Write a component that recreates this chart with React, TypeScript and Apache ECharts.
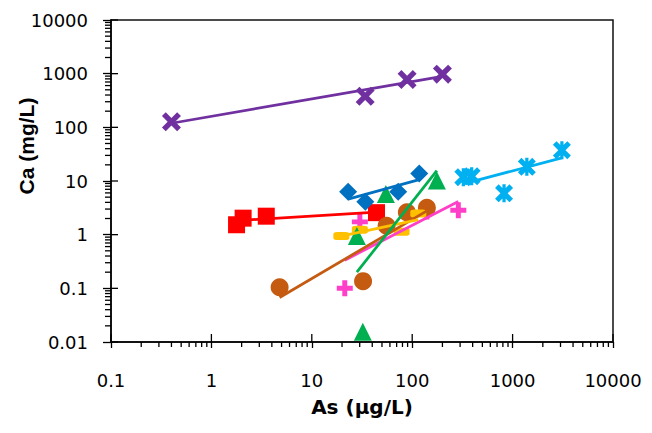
import React, { useEffect, useRef } from "react";
import * as echarts from "echarts";

// As (µg/L) and Ca (mg/L) measurements, one pair of arrays per group
const purpleAs = [0.4, 34, 89, 200];
const purpleCa = [127, 380, 780, 980];

const skyAs = [323, 391, 822, 1386, 3097];
const skyCa = [11.8, 12.3, 5.9, 18.4, 37.6];

const redAs = [1.78, 2.07, 3.52, 44.1];
const redCa = [1.53, 2.03, 2.21, 2.57];

const blueAs = [23, 34.1, 72.5, 117.5];
const blueCa = [6.3, 4.1, 6.3, 13.8];

const pinkAs = [21.3, 30.1, 140, 288];
const pinkCa = [0.1, 1.73, 2.7, 2.86];

const brownAs = [4.78, 32.4, 55.6, 88.5, 140];
const brownCa = [0.105, 0.136, 1.47, 2.62, 3.18];

const goldAs = [19.7, 30.1, 78.4, 115];
const goldCa = [0.94, 1.24, 1.13, 2.48];

const greenAs = [54.7, 176, 28.1, 32.2];
const greenCa = [5.7, 10.2, 0.94, 0.0155];

// Axis decades and the minor multipliers between them
const xDecades = [0.1, 1, 10, 100, 1000, 10000];
const yDecades = [0.01, 0.1, 1, 10, 100, 1000, 10000];
const minorSteps = [2, 3, 4, 5, 6, 7, 8, 9];

const xTitle = "As (µg/L)";
const yTitle = "Ca (mg/L)";

const CROSS = "path://M2,0 L5,3 L8,0 L10,2 L7,5 L10,8 L8,10 L5,7 L2,10 L0,8 L3,5 L0,2 Z";
const STAR =
  "path://M2,0 L5,3 L8,0 L10,2 L7,5 L10,8 L8,10 L5,7 L2,10 L0,8 L3,5 L0,2 Z M4.1,0 L5.9,0 L5.9,10 L4.1,10 Z";
const PLUS =
  "path://M3.45,0 L6.55,0 L6.55,3.45 L10,3.45 L10,6.55 L6.55,6.55 L6.55,10 L3.45,10 L3.45,6.55 L0,6.55 L0,3.45 L3.45,3.45 Z";

type Group = {
  name: string;
  xs: number[];
  ys: number[];
  color: string;
  symbol: string;
  size: number | number[];
};

const groups: Group[] = [
  { name: "G1", xs: purpleAs, ys: purpleCa, color: "#7030A0", symbol: CROSS, size: [19, 19] },
  { name: "G2", xs: skyAs, ys: skyCa, color: "#00B0F0", symbol: STAR, size: [18, 18] },
  { name: "G3", xs: redAs, ys: redCa, color: "#FF0000", symbol: "rect", size: 17 },
  { name: "G4", xs: blueAs, ys: blueCa, color: "#0070C0", symbol: "diamond", size: 18 },
  { name: "G5", xs: pinkAs, ys: pinkCa, color: "#FF3FC8", symbol: PLUS, size: 16 },
  { name: "G6", xs: brownAs, ys: brownCa, color: "#C55A11", symbol: "circle", size: 18 },
  { name: "G7", xs: goldAs, ys: goldCa, color: "#FFC000", symbol: "roundRect", size: [16, 8] },
  { name: "G8", xs: greenAs, ys: greenCa, color: "#00B050", symbol: "triangle", size: 18 },
];

// Power-law trendline (least squares in log-log space), from min to max As
function powerTrend(xs: number[], ys: number[]): number[][] {
  const lx = xs.map((v) => Math.log10(v));
  const ly = ys.map((v) => Math.log10(v));
  const n = lx.length;
  const mx = lx.reduce((a, b) => a + b, 0) / n;
  const my = ly.reduce((a, b) => a + b, 0) / n;
  let sxy = 0;
  let sxx = 0;
  for (let i = 0; i < n; i++) {
    sxy += (lx[i] - mx) * (ly[i] - my);
    sxx += (lx[i] - mx) * (lx[i] - mx);
  }
  const b = sxy / sxx;
  const a = my - b * mx;
  const x0 = Math.min(...xs);
  const x1 = Math.max(...xs);
  return [
    [x0, Math.pow(10, a + b * Math.log10(x0))],
    [x1, Math.pow(10, a + b * Math.log10(x1))],
  ];
}

// Tick marks drawn through the axes' scales: [x, y, kind]
function tickData(): number[][] {
  const out: number[][] = [];
  const yMin = yDecades[0];
  const xMin = xDecades[0];
  for (let i = 0; i < xDecades.length - 1; i++) {
    for (const m of minorSteps) out.push([xDecades[i] * m, yMin, 0]);
  }
  for (const d of xDecades) out.push([d, yMin, 1]);
  for (let i = 0; i < yDecades.length - 1; i++) {
    for (const m of minorSteps) out.push([xMin, yDecades[i] * m, 2]);
  }
  for (const d of yDecades) out.push([xMin, d, 3]);
  return out;
}

const fmt = (v: number) => String(Number(v.toPrecision(6)));

export default function App() {
  const ref = useRef<HTMLDivElement>(null);

  useEffect(() => {
    if (!ref.current) return;
    const chart = echarts.init(ref.current, undefined, { renderer: "svg" });

    const scatterSeries = groups.map((g) => ({
      type: "scatter",
      name: g.name,
      data: g.xs.map((x, j) => [x, g.ys[j]]),
      symbol: g.symbol,
      symbolSize: g.size,
      itemStyle: { color: g.color, opacity: 1 },
      z: 2,
      clip: false,
      emphasis: { disabled: true },
    }));

    const trendSeries = groups.map((g) => ({
      type: "line",
      name: g.name + " trend",
      data: powerTrend(g.xs, g.ys),
      showSymbol: false,
      symbol: "none",
      lineStyle: { color: g.color, width: 2.75 },
      z: 3,
      silent: true,
    }));

    const tickSeries = {
      type: "custom",
      data: tickData(),
      encode: { x: 0, y: 1 },
      clip: false,
      silent: true,
      z: 4,
      renderItem: (_params: any, api: any) => {
        const kind = api.value(2);
        const p = api.coord([api.value(0), api.value(1)]);
        let x2 = p[0];
        let y2 = p[1];
        if (kind === 0) y2 += 5;
        else if (kind === 1) y2 -= 8;
        else if (kind === 2) x2 -= 6;
        else x2 += 7;
        return {
          type: "line",
          shape: { x1: p[0], y1: p[1], x2, y2 },
          style: { stroke: "#000", lineWidth: 1.3 },
        };
      },
    };

    chart.setOption({
      animation: false,
      backgroundColor: "#fff",
      grid: {
        left: 111,
        right: 39,
        top: 20,
        bottom: 91,
        outerBoundsMode: "none",
        containLabel: false,
        show: true,
        borderColor: "#111",
        borderWidth: 1.5,
      },
      // vertical axis title, set a little above the axis centre
      graphic: [
        {
          type: "text",
          x: 26,
          y: 146,
          rotation: Math.PI / 2,
          style: {
            text: yTitle,
            align: "center",
            verticalAlign: "middle",
            fontFamily: "Liberation Sans",
            fontWeight: "bold",
            fontSize: 21,
            fill: "#000",
          },
        },
      ],
      xAxis: {
        type: "log",
        logBase: 10,
        min: xDecades[0],
        max: xDecades[xDecades.length - 1],
        splitNumber: 5,
        name: xTitle,
        nameLocation: "middle",
        nameGap: 55,
        nameTextStyle: {
          fontFamily: "DejaVu Sans",
          fontWeight: "bold",
          fontSize: 20,
          color: "#000",
        },
        axisLine: { show: true, lineStyle: { color: "#000", width: 1.5 } },
        axisTick: { show: true, length: 6, lineStyle: { color: "#000", width: 1.3 } },
        splitLine: { show: false },
        axisLabel: {
          margin: 29,
          fontFamily: "DejaVu Sans",
          fontSize: 18,
          color: "#000",
          formatter: fmt,
        },
      },
      yAxis: {
        type: "log",
        logBase: 10,
        min: yDecades[0],
        max: yDecades[yDecades.length - 1],
        splitNumber: 6,
        axisLine: { show: true, lineStyle: { color: "#000", width: 1.5 } },
        axisTick: { show: true, length: 8, lineStyle: { color: "#000", width: 1.3 } },
        splitLine: { show: false },
        axisLabel: {
          margin: 23,
          fontFamily: "DejaVu Sans",
          fontSize: 18,
          color: "#000",
          formatter: fmt,
        },
      },
      series: [...scatterSeries, ...trendSeries, tickSeries],
    });

    return () => chart.dispose();
  }, []);

  return (
    <div
      ref={ref}
      style={{ position: "absolute", left: 0, top: 0, width: 652, height: 433 }}
    />
  );
}
